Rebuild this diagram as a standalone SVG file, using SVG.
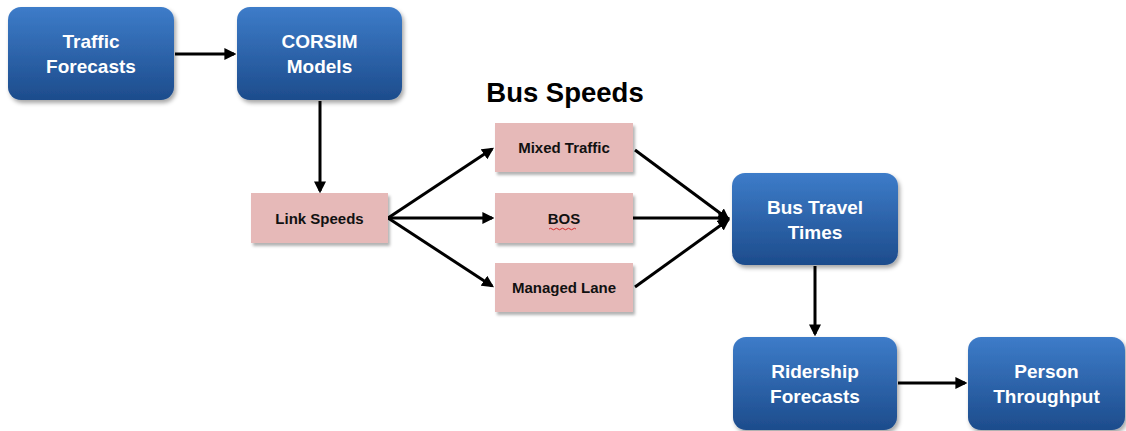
<svg xmlns="http://www.w3.org/2000/svg" width="1126" height="431" viewBox="0 0 1126 431">
<style>
.blue{fill:url(#bg);filter:url(#sh)}
.pink{fill:#e6b9b8;filter:url(#sh2)}
.bt{font-family:"Liberation Sans",Arial,sans-serif;font-weight:bold;font-size:19px;fill:#fff;text-anchor:middle}
.pt{font-family:"Liberation Sans",Arial,sans-serif;font-weight:bold;font-size:15px;fill:#111;text-anchor:middle}
.c{stroke:#000;stroke-width:3;fill:none;marker-end:url(#ah)}
</style>
<defs>
<linearGradient id="bg" x1="0" y1="0" x2="0" y2="1">
<stop offset="0" stop-color="#3d7cc9"/>
<stop offset="1" stop-color="#1d4c8c"/>
</linearGradient>
<filter id="sh" x="-10%" y="-10%" width="125%" height="130%">
<feDropShadow dx="2" dy="3" stdDeviation="2" flood-color="#000" flood-opacity="0.35"/>
</filter>
<filter id="sh2" x="-10%" y="-10%" width="125%" height="140%">
<feDropShadow dx="2" dy="3" stdDeviation="1.5" flood-color="#000" flood-opacity="0.3"/>
</filter>
<marker id="ah" markerWidth="4" markerHeight="4" refX="3.2" refY="2" orient="auto" markerUnits="strokeWidth">
<path d="M0,0 L4,2 L0,4 Z" fill="#000"/>
</marker>
</defs>
<g id="connectors">
<line class="c" x1="175" y1="54" x2="234" y2="54"/>
<line class="c" x1="320" y1="101" x2="320" y2="191"/>
<line class="c" x1="388" y1="218" x2="492" y2="149"/>
<line class="c" x1="388" y1="218" x2="492" y2="218"/>
<line class="c" x1="388" y1="218" x2="492" y2="286"/>
<line class="c" x1="635" y1="150" x2="728" y2="219"/>
<line class="c" x1="633" y1="218" x2="728" y2="218"/>
<line class="c" x1="635" y1="287" x2="728" y2="220"/>
<line class="c" x1="815" y1="266" x2="815" y2="334"/>
<line class="c" x1="898" y1="383" x2="965" y2="383"/>
</g>
<g id="traffic-forecasts">
<rect class="blue" x="8" y="7" width="166" height="93" rx="13"/>
<text class="bt" x="91" y="48">Traffic</text>
<text class="bt" x="91" y="73">Forecasts</text>
</g>
<g id="corsim-models">
<rect class="blue" x="237" y="7" width="165" height="93" rx="13"/>
<text class="bt" x="319.5" y="48">CORSIM</text>
<text class="bt" x="319.5" y="73">Models</text>
</g>
<g id="bus-speeds-title">
<text x="565" y="102" font-family="Liberation Sans,Arial,sans-serif" font-weight="bold" font-size="27.5" fill="#000" text-anchor="middle">Bus Speeds</text>
</g>
<g id="link-speeds">
<rect class="pink" x="251" y="193" width="137" height="50"/>
<text class="pt" x="319.5" y="224">Link Speeds</text>
</g>
<g id="mixed-traffic">
<rect class="pink" x="495" y="123" width="138" height="49"/>
<text class="pt" x="564" y="153">Mixed Traffic</text>
</g>
<g id="bos">
<rect class="pink" x="495" y="193" width="138" height="50"/>
<text class="pt" x="564" y="224">BOS</text>
<path d="M549,229 q1.5,-1.5 3,0 t3,0 t3,0 t3,0 t3,0 t3,0 t3,0 t3,0 t3,0" stroke="#d02020" stroke-width="0.9" fill="none"/>
</g>
<g id="managed-lane">
<rect class="pink" x="495" y="263" width="138" height="49"/>
<text class="pt" x="564" y="293">Managed Lane</text>
</g>
<g id="bus-travel-times">
<rect class="blue" x="732" y="173" width="166" height="92" rx="13"/>
<text class="bt" x="815" y="214">Bus Travel</text>
<text class="bt" x="815" y="239">Times</text>
</g>
<g id="ridership-forecasts">
<rect class="blue" x="733" y="337" width="164" height="93" rx="13"/>
<text class="bt" x="815" y="378">Ridership</text>
<text class="bt" x="815" y="403">Forecasts</text>
</g>
<g id="person-throughput">
<rect class="blue" x="968" y="337" width="157" height="93" rx="13"/>
<text class="bt" x="1046.5" y="378">Person</text>
<text class="bt" x="1046.5" y="403">Throughput</text>
</g>
</svg>
